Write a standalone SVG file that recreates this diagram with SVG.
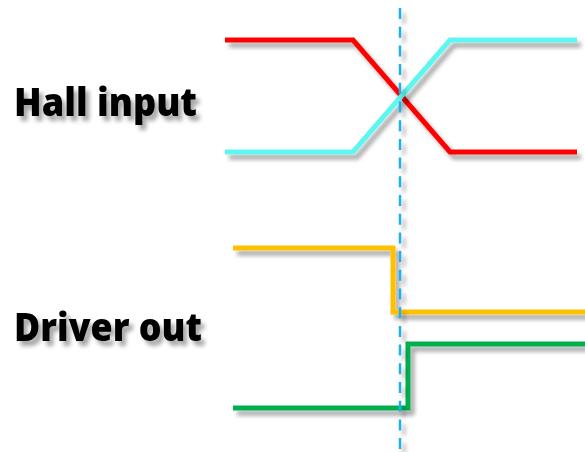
<svg xmlns="http://www.w3.org/2000/svg" width="585" height="452" viewBox="0 0 585 452">
<defs>
<filter id="sh" filterUnits="userSpaceOnUse" x="0" y="0" width="585" height="452">
<feGaussianBlur in="SourceAlpha" stdDeviation="2.2"/>
<feOffset dx="4" dy="5" result="b"/>
<feComponentTransfer><feFuncA type="linear" slope="0.35"/></feComponentTransfer>
<feMerge><feMergeNode/><feMergeNode in="SourceGraphic"/></feMerge>
</filter>
<style>
.w{fill:none;stroke-width:5;stroke-linejoin:miter;filter:url(#sh)}
.t{font-family:"Open Sans","Liberation Sans",sans-serif;font-weight:800;font-size:38px;fill:#000;filter:url(#sh)}
</style>
</defs>
<rect width="585" height="452" fill="#fff"/>
<g id="labels">
<text class="t" x="14" y="116" textLength="183" lengthAdjust="spacingAndGlyphs">Hall input</text>
<text class="t" x="14" y="341" textLength="188" lengthAdjust="spacingAndGlyphs">Driver out</text>
</g>
<g id="hall-red"><polyline class="w" stroke="#ff0000" points="225,40 353,40 450,152 577,152"/></g>
<g id="hall-cyan"><polyline class="w" stroke="#5ff5f0" points="225,152 353,152 450,40 577,40"/></g>
<g id="drv-orange"><polyline class="w" stroke="#ffc000" points="233,248 393,248 393,312 585,312"/></g>
<g id="drv-green"><polyline class="w" stroke="#00b050" points="233,408 408,408 408,344 585,344"/></g>
<g id="connectors">
<line x1="400" y1="8" x2="400" y2="452" stroke="#1ab0f0" stroke-width="2.5" stroke-dasharray="11 7.7" filter="url(#sh)"/>
</g>
</svg>
